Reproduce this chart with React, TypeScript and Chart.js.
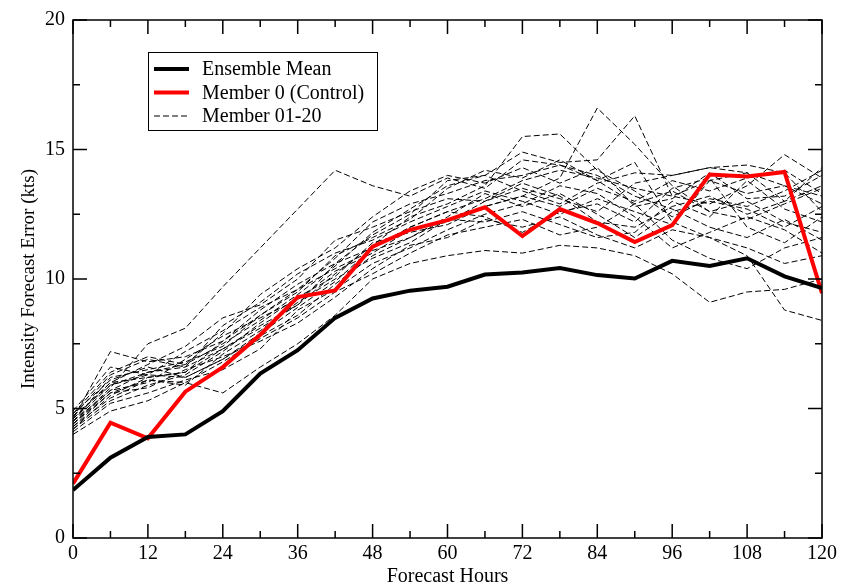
import { useEffect, useRef } from "react";
import { Chart, registerables } from "chart.js";
Chart.register(...registerables);

const hours = [0, 6, 12, 18, 24, 30, 36, 42, 48, 54, 60, 66, 72, 78, 84, 90, 96, 102, 108, 114, 120];
const xTickValues = [0, 12, 24, 36, 48, 60, 72, 84, 96, 108, 120];
const yTickValues = [0, 5, 10, 15, 20];

const ensembleMean = [1.85, 3.1, 3.9, 4.0, 4.9, 6.35, 7.25, 8.5, 9.25, 9.55, 9.7, 10.17, 10.25, 10.42, 10.15, 10.02, 10.7, 10.5, 10.8, 10.1, 9.65];
const member0 = [2.1, 4.45, 3.85, 5.65, 6.6, 7.85, 9.3, 9.56, 11.25, 11.9, 12.27, 12.77, 11.66, 12.7, 12.16, 11.43, 12.08, 14.03, 13.96, 14.13, 9.45];

const m01 = [4.6, 7.2, 6.8, 7.0, 7.6, 8.8, 9.8, 10.6, 11.2, 12.0, 12.6, 13.1, 13.8, 14.2, 13.9, 13.5, 13.2, 13.8, 14.1, 13.6, 13.2];
const m02 = [4.4, 5.8, 7.5, 8.1, 9.7, 11.2, 12.7, 14.2, 13.6, 13.2, 13.9, 13.5, 14.6, 14.4, 13.8, 12.9, 13.4, 12.6, 12.3, 12.9, 13.5];
const m03 = [4.2, 5.5, 6.2, 6.4, 7.3, 8.2, 9.0, 10.2, 11.3, 12.4, 12.9, 13.6, 15.5, 15.6, 14.2, 13.4, 12.4, 13.1, 12.8, 13.4, 14.2];
const m04 = [4.8, 6.1, 6.6, 6.2, 6.9, 7.8, 8.6, 9.8, 10.9, 11.6, 12.3, 12.8, 13.2, 13.9, 16.6, 15.2, 13.6, 12.6, 13.0, 12.2, 11.8];
const m05 = [4.5, 5.9, 6.4, 6.7, 7.5, 8.4, 9.4, 10.5, 11.8, 12.7, 13.6, 14.0, 14.9, 14.5, 14.6, 16.3, 13.2, 12.9, 13.6, 14.8, 13.9];
const m06 = [4.0, 4.9, 5.3, 6.0, 5.6, 6.6, 7.5, 8.6, 10.0, 10.6, 10.9, 11.1, 11.0, 11.3, 11.2, 10.9, 10.2, 9.1, 9.5, 9.6, 10.0];
const m07 = [4.3, 5.6, 5.8, 6.5, 7.0, 7.6, 8.3, 9.3, 10.4, 11.3, 11.6, 12.3, 12.0, 12.4, 11.7, 11.2, 11.9, 11.6, 10.9, 8.8, 8.4];
const m08 = [4.7, 6.3, 6.9, 6.6, 8.2, 9.1, 10.2, 11.0, 11.5, 12.2, 12.8, 13.4, 13.0, 12.5, 13.1, 12.6, 12.1, 13.8, 13.3, 13.6, 12.9];
const m09 = [4.4, 5.7, 6.0, 6.9, 7.8, 8.5, 9.2, 10.3, 11.0, 11.9, 12.2, 13.0, 13.5, 13.1, 12.6, 13.7, 14.0, 14.3, 14.4, 14.1, 12.6];
const m10 = [4.9, 6.6, 6.3, 7.2, 8.0, 8.9, 9.6, 10.8, 12.2, 12.9, 13.3, 13.8, 14.0, 14.4, 14.0, 13.2, 12.7, 12.0, 11.6, 12.3, 11.5];
const m11 = [4.1, 5.2, 5.6, 6.1, 6.5, 7.3, 8.8, 9.6, 10.6, 11.2, 11.9, 12.5, 12.9, 13.6, 13.3, 12.4, 11.2, 11.8, 12.4, 11.9, 11.0];
const m12 = [4.6, 6.0, 6.7, 7.4, 8.5, 9.0, 10.0, 11.5, 12.0, 12.6, 13.1, 13.0, 13.7, 13.2, 12.2, 12.0, 12.8, 13.2, 12.5, 13.0, 14.3];
const m13 = [4.3, 5.4, 6.1, 5.9, 7.1, 8.0, 9.1, 10.0, 10.8, 11.4, 12.3, 12.2, 12.6, 12.1, 11.6, 11.8, 13.0, 12.4, 13.8, 12.7, 12.2];
const m14 = [4.5, 6.2, 6.5, 6.8, 7.4, 8.6, 9.5, 10.9, 11.6, 12.3, 13.5, 14.2, 13.9, 14.6, 13.8, 14.5, 12.2, 11.6, 11.2, 10.6, 10.9];
const m15 = [4.7, 5.9, 6.3, 6.2, 6.9, 7.9, 8.9, 9.9, 11.2, 12.0, 12.6, 12.4, 11.8, 12.6, 12.9, 12.2, 13.5, 13.9, 12.0, 11.4, 12.4];
const m16 = [4.2, 5.3, 5.9, 6.3, 7.2, 8.3, 9.3, 10.1, 11.4, 11.8, 12.1, 12.8, 13.2, 12.8, 13.5, 13.0, 13.8, 13.4, 13.9, 14.2, 13.3];
const m17 = [4.8, 6.4, 7.0, 6.7, 7.9, 9.4, 10.4, 11.2, 12.4, 13.4, 14.0, 13.7, 14.3, 13.7, 14.3, 12.8, 13.1, 14.1, 13.1, 13.2, 14.0];
const m18 = [4.4, 5.6, 6.1, 6.0, 6.8, 7.7, 8.5, 9.5, 10.2, 11.0, 11.7, 12.0, 12.3, 11.7, 12.0, 12.9, 11.5, 10.8, 10.4, 11.2, 11.6];
const m19 = [4.6, 6.0, 6.2, 6.4, 7.6, 8.6, 9.6, 10.4, 11.1, 11.6, 12.4, 13.3, 12.8, 13.3, 12.5, 11.6, 12.6, 13.0, 12.7, 12.0, 12.8];
const m20 = [4.5, 5.7, 6.4, 6.6, 7.3, 8.1, 9.0, 10.6, 11.7, 12.5, 13.8, 14.0, 13.4, 12.9, 13.7, 14.1, 14.0, 14.3, 14.1, 13.0, 13.6];
const members = [m01, m02, m03, m04, m05, m06, m07, m08, m09, m10, m11, m12, m13, m14, m15, m16, m17, m18, m19, m20];

const legendLabels = ["Ensemble Mean", "Member 0 (Control)", "Member 01-20"];
const FONT = '"Liberation Serif", "Times New Roman", serif';

const toPoints = (vals: number[]) => vals.map((y, i) => ({ x: hours[i], y }));

const frameTicks = {
  id: "frameTicks",
  afterDatasetsDraw(chart: any) {
    const { ctx, chartArea: a, scales } = chart;
    const xs = scales.x, ys = scales.y;
    ctx.save();
    ctx.strokeStyle = "#000";
    ctx.lineWidth = 1.5;
    ctx.strokeRect(a.left, a.top, a.right - a.left, a.bottom - a.top);
    ctx.beginPath();
    for (let h = 0; h <= 120; h += 6) {
      const px = xs.getPixelForValue(h);
      const len = h % 12 === 0 ? 14 : 7;
      ctx.moveTo(px, a.bottom); ctx.lineTo(px, a.bottom - len);
      ctx.moveTo(px, a.top); ctx.lineTo(px, a.top + len);
    }
    for (let v = 0; v <= 20; v += 2.5) {
      const py = ys.getPixelForValue(v);
      const len = v % 5 === 0 ? 14 : 7;
      ctx.moveTo(a.left, py); ctx.lineTo(a.left + len, py);
      ctx.moveTo(a.right, py); ctx.lineTo(a.right - len, py);
    }
    ctx.stroke();
    ctx.restore();
  },
};

const boxLegend = {
  id: "boxLegend",
  afterDraw(chart: any) {
    const { ctx } = chart;
    const ds = chart.data.datasets;
    const bx = 148, by = 52, bw = 229, bh = 78;
    ctx.save();
    ctx.fillStyle = "#fff";
    ctx.fillRect(bx, by, bw, bh);
    ctx.strokeStyle = "#000";
    ctx.lineWidth = 1;
    ctx.strokeRect(bx + 0.5, by + 0.5, bw, bh);
    const rows = [ds[0], ds[1], ds[2]];
    rows.forEach((d: any, i: number) => {
      const y = 69 + i * 23.5;
      ctx.beginPath();
      ctx.strokeStyle = d.borderColor;
      ctx.lineWidth = d.borderWidth;
      ctx.setLineDash(d.borderDash || []);
      ctx.moveTo(154, y);
      ctx.lineTo(189, y);
      ctx.stroke();
      ctx.setLineDash([]);
      ctx.fillStyle = "#000";
      ctx.font = `20px ${FONT}`;
      ctx.textBaseline = "middle";
      ctx.textAlign = "left";
      ctx.fillText(legendLabels[i], 202, y + 1);
    });
    ctx.restore();
  },
};

export default function App() {
  const ref = useRef<HTMLCanvasElement>(null);
  useEffect(() => {
    if (!ref.current) return;
    const datasets: any[] = [
      { label: legendLabels[0], data: toPoints(ensembleMean), borderColor: "#000", borderWidth: 4, pointRadius: 0, tension: 0 },
      { label: legendLabels[1], data: toPoints(member0), borderColor: "#ff0000", borderWidth: 4, pointRadius: 0, tension: 0 },
      ...members.map((m, i) => ({
        label: `Member ${String(i + 1).padStart(2, "0")}`,
        data: toPoints(m),
        borderColor: "#000",
        borderWidth: 1,
        borderDash: [6, 3],
        pointRadius: 0,
        tension: 0,
      })),
    ];
    const chart = new Chart(ref.current, {
      type: "line",
      data: { datasets },
      options: {
        animation: false,
        responsive: false,
        layout: { padding: { top: 15, right: 22, left: 0, bottom: 0 } },
        plugins: { legend: { display: false }, tooltip: { enabled: false } },
        scales: {
          x: {
            type: "linear",
            min: 0,
            max: 120,
            afterFit: (s: any) => { s.height = 48; },
            afterBuildTicks: (s: any) => { s.ticks = xTickValues.map((v) => ({ value: v })); },
            grid: { display: false, drawTicks: false },
            border: { display: false },
            ticks: { color: "#000", padding: 4, maxRotation: 0, autoSkip: false, font: { family: FONT, size: 20 } },
            title: { display: true, text: "Forecast Hours", color: "#000", font: { family: FONT, size: 20 }, padding: { top: 0, bottom: -3 } },
          },
          y: {
            type: "linear",
            min: 0,
            max: 20,
            afterFit: (s: any) => { s.width = 73; },
            afterBuildTicks: (s: any) => { s.ticks = yTickValues.map((v) => ({ value: v })); },
            grid: { display: false, drawTicks: false },
            border: { display: false },
            ticks: { color: "#000", padding: 8, font: { family: FONT, size: 20 } },
            title: { display: true, text: "Intensity Forecast Error (kts)", color: "#000", font: { family: FONT, size: 19 }, padding: { top: 18, bottom: 0 } },
          },
        },
      },
      plugins: [frameTicks, boxLegend],
    });
    return () => chart.destroy();
  }, []);
  return (
    <div style={{ position: "fixed", left: 0, top: 0, width: 844, height: 586, background: "#fff" }}>
      <canvas ref={ref} width={844} height={586} style={{ display: "block" }} />
    </div>
  );
}
